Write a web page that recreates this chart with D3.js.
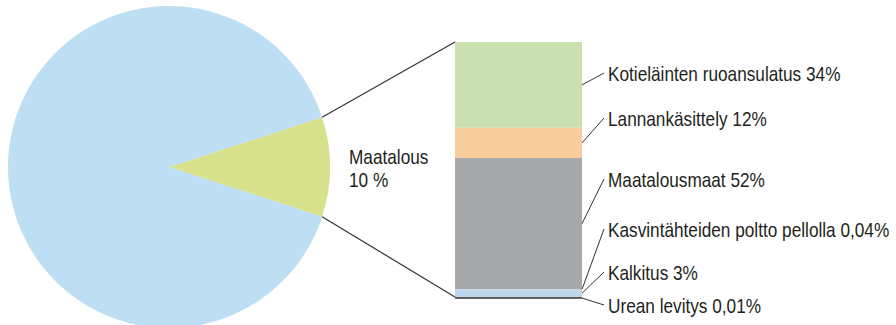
<!DOCTYPE html>
<html>
<head>
<meta charset="utf-8">
<script src="https://cdn.jsdelivr.net/npm/d3@7"></script>
<style>
  html, body { margin: 0; padding: 0; background: #fff; }
  svg { display: block; }
  text { font-family: "Liberation Sans", Arial, sans-serif; font-size: 21px; fill: #231f20; }
</style>
</head>
<body>
<div id="chart"></div>
<script>
// pie: share of agriculture in total emissions
var pieLabels = ['Maatalous', 'Muut'];
var pieValues = [10, 90];

// breakdown of the agriculture slice, top to bottom
var barLabels = ['Kotieläinten ruoansulatus 34%', 'Lannankäsittely 12%', 'Maatalousmaat 52%',
                 'Kasvintähteiden poltto pellolla 0,04%', 'Kalkitus 3%', 'Urean levitys 0,01%'];
var barValues = [34, 12, 52, 0.04, 3, 0.01];

var W = 896, H = 325;
var svg = d3.select('#chart').append('svg').attr('width', W).attr('height', H);

var cx = 169, cy = 167, r = 161;
var pieColors = ['#d8e18c', '#bddef3'];
var barColors = ['#cbe0b0', '#f9cc9e', '#a7a8aa', '#a7a8aa', '#bcd7ec', '#606060'];

// 10% slice centred on the right hand side
var pie = d3.pie().sort(null).value(function (d) { return d; })
    .startAngle(0.4 * Math.PI).endAngle(2.4 * Math.PI);
var arcs = pie(pieValues);
var arc = d3.arc().innerRadius(0).outerRadius(r);

var g = svg.append('g').attr('transform', 'translate(' + cx + ',' + cy + ')');
g.selectAll('path').data(arcs).enter().append('path')
    .attr('d', arc)
    .attr('fill', function (d, i) { return pieColors[i]; });

// stacked bar
var barX0 = 455, barX1 = 582;
var total = d3.sum(barValues);
var y = d3.scaleLinear().domain([0, total]).range([297, 42]);

// cumulative from the top
var tops = [];
var acc = total;
barValues.forEach(function (v) { tops.push(acc); acc -= v; });

svg.selectAll('rect.seg').data(barValues).enter().append('rect')
    .attr('class', 'seg')
    .attr('x', barX0)
    .attr('width', barX1 - barX0)
    .attr('y', function (d, i) { return y(tops[i]); })
    .attr('height', function (d, i) {
        var h = y(tops[i] - d) - y(tops[i]);
        // the tiniest slice gets a thin sliver so it still shows
        return d < 0.02 ? Math.max(h, 2) : h;
    })
    .attr('fill', function (d, i) { return barColors[i]; });

// connector lines from the slice edges to the bar
var sl = arcs[0];
function edge(a) { return [cx + r * Math.sin(a), cy - r * Math.cos(a)]; }
var p0 = edge(sl.startAngle), p1 = edge(sl.endAngle);
svg.append('line').attr('x1', p0[0]).attr('y1', p0[1]).attr('x2', barX0).attr('y2', y(total))
    .attr('stroke', '#333').attr('stroke-width', 1.2);
svg.append('line').attr('x1', p1[0]).attr('y1', p1[1]).attr('x2', barX0).attr('y2', y(0))
    .attr('stroke', '#333').attr('stroke-width', 1.2);

// pie label
var narrow = 0.82;
svg.append('text').attr('transform', 'translate(349,164) scale(' + narrow + ',1)').text(pieLabels[0]);
svg.append('text').attr('transform', 'translate(349,187) scale(' + narrow + ',1)').text(pieValues[0] + ' %');

// bar labels with leader lines
var labelX = 608;
var labelBase = [81, 126, 187, 237, 280, 313];
barValues.forEach(function (v, i) {
    var mid = (y(tops[i]) + y(tops[i] - v)) / 2;
    if (v < 0.02) mid = y(0) + 1;
    svg.append('line')
        .attr('x1', barX1).attr('y1', mid)
        .attr('x2', labelX - 4).attr('y2', labelBase[i] - 8)
        .attr('stroke', '#333').attr('stroke-width', 1);
    svg.append('text')
        .attr('transform', 'translate(' + labelX + ',' + labelBase[i] + ') scale(' + narrow + ',1)')
        .text(barLabels[i]);
});
</script>
</body>
</html>
